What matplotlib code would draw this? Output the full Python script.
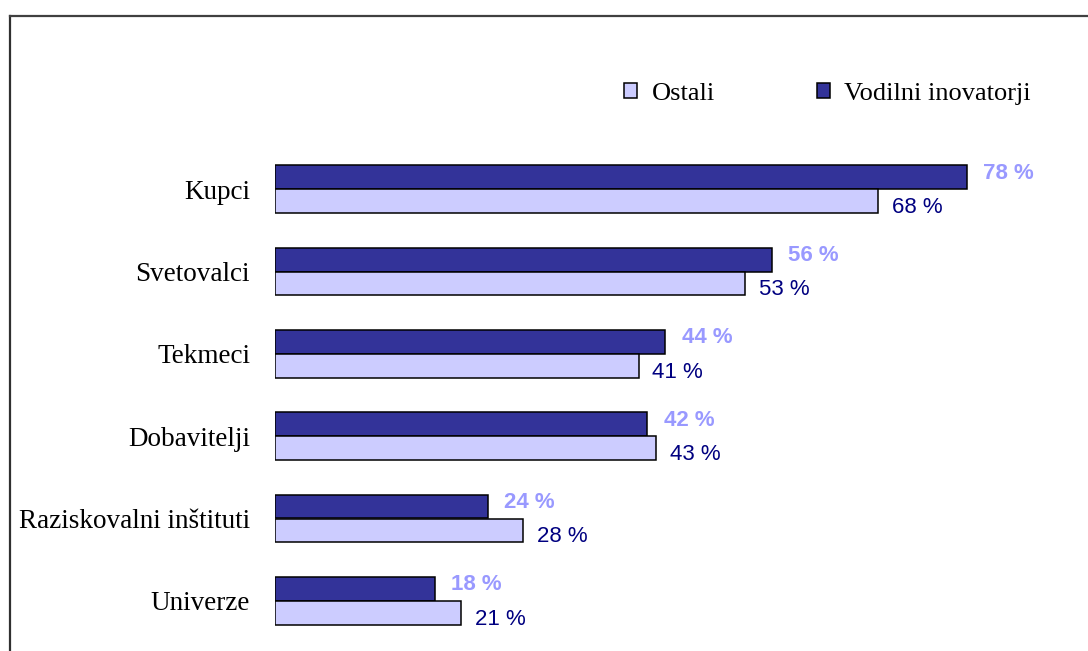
import matplotlib.pyplot as plt
import numpy as np
from matplotlib.lines import Line2D
from matplotlib.patches import Patch

# Sources of innovation ideas, share of firms (%)
categories = ['Kupci', 'Svetovalci', 'Tekmeci', 'Dobavitelji',
              'Raziskovalni inštituti', 'Univerze']
vodilni = [78, 56, 44, 42, 24, 18]
ostali = [68, 53, 41, 43, 28, 21]

dark = '#333399'
light = '#CCCCFF'

fig = plt.figure(figsize=(10.88, 6.51), dpi=100)
ax = fig.add_axes([275 / 1088, 9 / 651, 798 / 1088, 494 / 651])

y = np.arange(len(categories))
h = 0.291

ax.barh(y - h / 2, vodilni, height=h, color=dark, edgecolor='black', linewidth=1.1)
ax.barh(y + h / 2, ostali, height=h, color=light, edgecolor='black', linewidth=1.1)

# value labels next to bar ends
for yi, v in zip(y, vodilni):
    ax.annotate(f'{v} %', (v, yi - h / 2), xytext=(12, 3), textcoords='offset points',
                ha='left', va='center', fontsize=16, fontweight='bold',
                color='#9999FF', family='Liberation Sans')
for yi, v in zip(y, ostali):
    ax.annotate(f'{v} %', (v, yi + h / 2), xytext=(10, -4.5), textcoords='offset points',
                ha='left', va='center', fontsize=16,
                color='#000080', family='Liberation Sans')

ax.set_xlim(0, 90)
ax.set_ylim(len(categories) - 0.5, -0.5)
ax.set_yticks(y)
ax.set_yticklabels(categories, family='Liberation Serif', fontsize=19.5)
ax.tick_params(axis='y', length=0, pad=18)
ax.set_xticks([])
for s in ax.spines.values():
    s.set_visible(False)

handles = [Patch(facecolor=light, edgecolor='black', linewidth=1.1),
           Patch(facecolor=dark, edgecolor='black', linewidth=1.1)]
fig.legend(handles, ['Ostali', 'Vodilni inovatorji'], loc='center left',
           bbox_to_anchor=(624 / 1088, 1 - 94 / 651), ncol=2, frameon=False,
           prop={'family': 'Liberation Serif', 'size': 19},
           handlelength=0.5, handleheight=0.5, handletextpad=0.55,
           columnspacing=3.85, borderpad=0, borderaxespad=0)

# outer frame, left and top edges
fig.add_artist(Line2D([10 / 1088, 10 / 1088], [0, 1 - 16 / 651],
                      transform=fig.transFigure, color='#303030', lw=1.6))
fig.add_artist(Line2D([10 / 1088, 1], [1 - 16 / 651, 1 - 16 / 651],
                      transform=fig.transFigure, color='#404040', lw=1.6))

fig.savefig('out.png', dpi=100)
